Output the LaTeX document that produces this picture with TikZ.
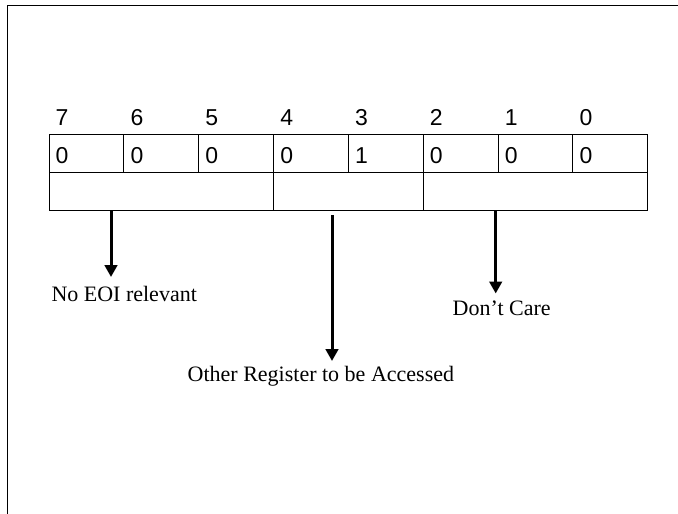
\documentclass[tikz,border=0pt]{standalone}
\usepackage{fontspec}
\setmainfont{Liberation Serif}
\newfontfamily\digitfont{Liberation Sans}
\usetikzlibrary{arrows.meta}

\tikzset{
  cell/.style={draw, line width=1pt, minimum width=74.85pt, minimum height=38.3pt, inner sep=0pt},
  field/.style={draw, line width=1pt, minimum height=38.3pt, inner sep=0pt},
  digit/.style={inner sep=0pt, anchor=base west, font={\digitfont\fontsize{23}{27}\selectfont}},
  note/.style={inner sep=0pt, anchor=base west, font=\fontsize{22}{26}\selectfont},
  pointer/.style={line width=3pt, -{Triangle[width=12.5pt, length=12pt]}}
}

\begin{document}
\begin{tikzpicture}[x=1pt, y=-1pt]
      \def\w{74.85}
      \useasboundingbox (0,0) rectangle (678,514);

      % outer frame (only top and left edges are visible)
      \draw[line width=1.7pt] (7.5,514) -- (7.5,5.5) -- (678,5.5);

      % bit cells with numbers and values
      \foreach \b/\v [count=\i from 0] in {7/0,6/0,5/0,4/0,3/1,2/0,1/0,0/0} {
        \node[cell] (c\b) at (49+\i*\w+\w/2, 153.4) {};
        \node[digit] (n\b) at ([xshift=7pt, yshift=8.6pt]c\b.north west) {\b};
        \node[digit] (v\b) at ([xshift=7pt, yshift=9.8pt]c\b.south west) {\v};
      }

      % fields below the cells
      \node[field, minimum width=3*\w pt] (f1) at (49+1.5*\w, 191.7) {};
      \node[field, minimum width=2*\w pt] (f2) at (49+4*\w, 191.7) {};
      \node[field, minimum width=3*\w pt] (f3) at (49+6.5*\w, 191.7) {};

      % labels
      \node[note] (l1) at (51.3,301) {No EOI relevant};
      \node[note] (l2) at (187.5,381.5) {Other Register to be Accessed};
      \node[note] (l3) at (452.5,315) {Don’t Care};

      \coordinate (s1) at (111,211);
      \coordinate (s2) at (332,215);
      \coordinate (s3) at (495.7,210);
      \coordinate (t1) at (111,277);
      \coordinate (t2) at (332,361);
      \coordinate (t3) at (495.7,293.5);

      \draw[pointer] (s1) -- (t1);
      \draw[pointer] (s2) -- (t2);
      \draw[pointer] (s3) -- (t3);

    \end{tikzpicture}
\end{document}
